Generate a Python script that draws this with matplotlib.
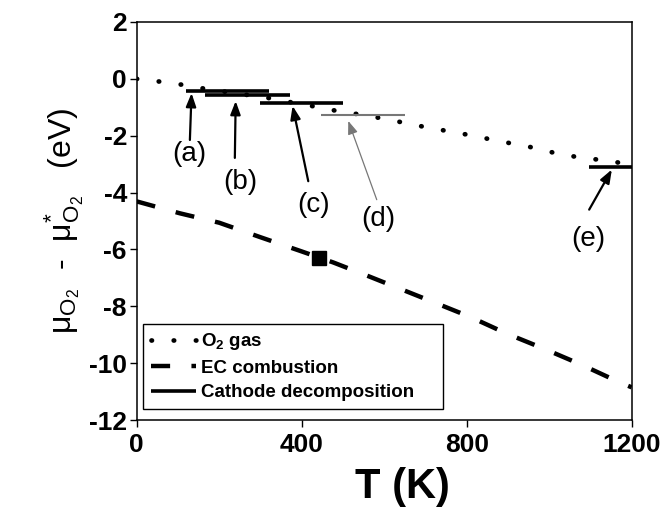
import matplotlib
matplotlib.use("Agg")
import matplotlib.pyplot as plt

plt.rcParams['font.family'] = ['Liberation Sans', 'DejaVu Sans']
plt.rcParams['mathtext.default'] = 'regular'
plt.rcParams['axes.unicode_minus'] = False

# O2 gas chemical potential vs temperature
T_o2 = [0, 58, 112, 166, 327, 380, 434, 486, 540, 595, 647, 701, 755, 808,
        862, 915, 969, 1022, 1073, 1129, 1185, 1200]
mu_o2 = [0, -0.10, -0.21, -0.35, -0.69, -0.84, -0.98, -1.13, -1.25, -1.39,
         -1.54, -1.70, -1.84, -1.98, -2.14, -2.29, -2.44, -2.64, -2.76,
         -2.86, -2.98, -3.02]

# EC combustion curve
T_ec = [0, 105, 200, 300, 400, 477, 560, 700, 808, 897, 987, 1079, 1170, 1200]
mu_ec = [-4.31, -4.73, -5.06, -5.57, -6.07, -6.46, -6.93, -7.74, -8.37,
         -8.96, -9.49, -10.06, -10.67, -10.85]
T_square, mu_square = 442, -6.29

# cathode decomposition segments (a)-(e): T start, T end, level
seg_names = ['(a)', '(b)', '(c)', '(d)', '(e)']
seg_t0 = [120, 166, 299, 448, 1097]
seg_t1 = [322, 372, 501, 650, 1200]
seg_mu = [-0.44, -0.57, -0.86, -1.26, -3.10]

# label positions and arrow tail/tip for each segment
lab_T = [127, 251, 430, 586, 1095]
lab_mu = [-2.66, -3.63, -4.43, -4.93, -5.63]
tail_T = [129, 238, 416, 582, 1097]
tail_mu = [-2.15, -2.78, -3.60, -4.25, -4.60]
tip_T = [133, 240, 378, 513, 1152]
tip_mu = [-0.50, -0.78, -0.95, -1.48, -3.19]

fig = plt.figure(figsize=(6.68, 5.08), dpi=100)
ax = fig.add_axes([0.2046, 0.1732, 0.741, 0.7835])

ax.plot(T_o2, mu_o2, color='k', lw=3.4, linestyle=(0, (0.1, 4.6)),
        dash_capstyle='round', label=r'$O_2$ gas')
ax.plot(T_ec, mu_ec, color='k', lw=3.2, linestyle=(0, (4.3, 4.8)),
        label='EC combustion')
ax.plot(T_square, mu_square, 's', color='k', ms=10)

for i in range(len(seg_names)):
    gray = seg_names[i] == '(d)'
    col = '#777777' if gray else 'k'
    lab = 'Cathode decomposition' if i == 0 else None
    ax.plot([seg_t0[i], seg_t1[i]], [seg_mu[i], seg_mu[i]], color=col,
            lw=1.5 if gray else 2.6, solid_capstyle='butt', label=lab)
    ax.annotate('', xy=(tip_T[i], tip_mu[i]), xytext=(tail_T[i], tail_mu[i]),
                arrowprops=dict(arrowstyle='-|>,head_length=0.8,head_width=0.3',
                                color=col, lw=0.9 if gray else 1.6,
                                mutation_scale=10, shrinkA=0, shrinkB=0))
    ax.text(lab_T[i], lab_mu[i], seg_names[i], fontsize=20,
            ha='center', va='center')

ax.set_xlim(0, 1200)
ax.set_ylim(-12, 2)
ax.set_xticks([0, 400, 800, 1200])
ax.set_yticks(range(-12, 3, 2))
ax.tick_params(axis='both', direction='out', length=5, width=1,
               labelsize=19)
ax.tick_params(axis='x', pad=4.5)
ax.tick_params(axis='y', pad=2)
for lbl in ax.get_xticklabels() + ax.get_yticklabels():
    lbl.set_fontweight('bold')
for sp in ax.spines.values():
    sp.set_linewidth(1.1)

ax.set_xlabel('T (K)', fontsize=30, fontweight='bold')
ax.xaxis.set_label_coords(0.537, -0.118, transform=ax.transAxes)
ax.xaxis.label.set_va('top')
ax.set_ylabel(r'μ$_{O_2}$  -  μ$^{*}_{O_2}$   (eV)', fontsize=23, labelpad=2)

leg = ax.legend(loc='lower left', bbox_to_anchor=(0.013, 0.028, 0.606, 0.221),
                mode='expand', borderaxespad=0, fancybox=False,
                edgecolor='k', framealpha=1, handlelength=2.4,
                handletextpad=0.3, labelspacing=0.4,
                prop={'weight': 'bold', 'size': 13.5})
leg.get_frame().set_linewidth(1)

fig.savefig('out.png', dpi=100)
